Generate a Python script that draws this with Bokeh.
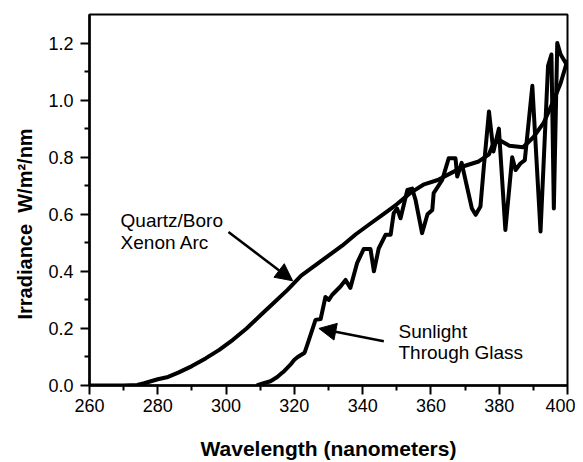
from bokeh.plotting import figure
from bokeh.models import Range1d, Label, Arrow, NormalHead, FixedTicker, PrintfTickFormatter, Title
from bokeh.embed import file_html
from bokeh.resources import INLINE

# ---- data ----
xenon_wl = [260, 270, 274, 276, 278, 280, 283, 286, 290, 294, 298, 302, 306, 310,
            314, 318, 322, 326, 330, 334, 338, 342, 346, 350, 354, 358, 362, 366,
            370, 374, 377, 378, 380, 383, 387, 390, 393, 396, 398, 400]
xenon_irr = [0.0, 0.0, 0.002, 0.008, 0.015, 0.022, 0.03, 0.045, 0.068, 0.095, 0.125,
             0.16, 0.2, 0.245, 0.29, 0.335, 0.385, 0.42, 0.455, 0.49, 0.53, 0.565,
             0.6, 0.635, 0.675, 0.705, 0.72, 0.745, 0.77, 0.785, 0.81, 0.84, 0.86,
             0.84, 0.835, 0.87, 0.92, 1.0, 1.06, 1.14]

sun_wl = [309, 311, 313, 315, 316, 317, 319, 320, 321, 323, 324, 326.2, 327.7, 329.1,
          330.1, 331.1, 333.5, 335, 336.4, 338.4, 340.3, 342.3, 343.3, 344.7, 346.7,
          348.2, 349.1, 350.1, 351.1, 353.1, 354.5, 355.5, 357.4, 359, 360.4, 360.8,
          363.3, 365.2, 367.2, 367.7, 369, 370.5, 372, 373.1, 374.5, 375.5, 377,
          378.3, 379.9, 381.8, 383.8, 384.8, 386.2, 387.5, 389.7, 392.1, 394.3,
          395.3, 396, 397, 398, 399, 400]
sun_irr = [0.0, 0.008, 0.015, 0.03, 0.04, 0.05, 0.075, 0.09, 0.1, 0.115, 0.15, 0.23,
           0.233, 0.31, 0.30, 0.318, 0.347, 0.37, 0.342, 0.43, 0.478, 0.478, 0.40,
           0.48, 0.528, 0.528, 0.604, 0.62, 0.586, 0.685, 0.69, 0.65, 0.534, 0.6,
           0.615, 0.674, 0.72, 0.796, 0.796, 0.732, 0.78, 0.70, 0.62, 0.598, 0.627,
           0.767, 0.96, 0.82, 0.90, 0.545, 0.80, 0.755, 0.778, 0.79, 1.05, 0.54,
           1.12, 1.16, 0.62, 1.20, 1.16, 1.14, 1.12]

x_ticks = [260, 280, 300, 320, 340, 360, 380, 400]
x_minor = [270, 290, 310, 330, 350, 370, 390]
y_ticks = [0.0, 0.2, 0.4, 0.6, 0.8, 1.0, 1.2]
y_minor = [0.1, 0.3, 0.5, 0.7, 0.9, 1.1]

x_title = "Wavelength (nanometers)"
y_title = "Irradiance \u00a0W/m²/nm"
xenon_text = ["Quartz/Boro", "Xenon Arc"]
sun_text = ["Sunlight", "Through Glass"]

# annotation anchors (data units)
xenon_text_pos = (269.1, [0.578, 0.50])
sun_text_pos = (350.5, [0.19, 0.115])
xenon_arrow = (300.7, 0.538, 319.5, 0.367)
sun_arrow = (346.2, 0.155, 327.2, 0.20)

FONT = "Liberation Sans"

p = figure(width=575, height=462, output_backend="svg", toolbar_location=None,
           x_range=Range1d(260, 400), y_range=Range1d(0, 1.3), title=None,
           min_border_left=89, min_border_right=8, min_border_top=14,
           min_border_bottom=76)
p.grid.visible = False
p.outline_line_color = "black"
p.outline_line_width = 2
p.background_fill_color = "white"
p.border_fill_color = "white"

p.xaxis.ticker = FixedTicker(ticks=x_ticks, minor_ticks=x_minor)
p.yaxis.ticker = FixedTicker(ticks=y_ticks, minor_ticks=y_minor)
p.yaxis.formatter = PrintfTickFormatter(format="%.1f")
for ax in (p.xaxis, p.yaxis):
    ax.axis_line_width = 2.5
    ax.axis_line_color = "black"
    ax.major_tick_line_width = 2
    ax.minor_tick_line_width = 2
    ax.major_tick_line_color = "black"
    ax.minor_tick_line_color = "black"
    ax.major_tick_in = 0
    ax.major_tick_out = 9
    ax.minor_tick_in = 0
    ax.minor_tick_out = 5
    ax.major_label_text_font = FONT
    ax.major_label_text_font_size = "18px"
    ax.major_label_text_color = "black"
p.xaxis.major_label_standoff = 4
p.yaxis.major_label_standoff = 7

p.xaxis.axis_label = x_title
p.xaxis.axis_label_text_font = FONT
p.xaxis.axis_label_text_font_size = "21px"
p.xaxis.axis_label_text_font_style = "bold"
p.xaxis.axis_label_text_color = "black"
p.xaxis.axis_label_standoff = 22

p.add_layout(Title(text=y_title, align="left", offset=66, standoff=19,
                   text_font=FONT, text_font_size="20px", text_font_style="bold",
                   text_color="black"), "left")

p.line(xenon_wl, xenon_irr, line_width=4, line_color="black", line_join="round")
p.line(sun_wl, sun_irr, line_width=4, line_color="black", line_join="round")

for txt, yy in zip(xenon_text, xenon_text_pos[1]):
    p.add_layout(Label(x=xenon_text_pos[0], y=yy, text=txt, text_font=FONT,
                       text_font_size="19px", text_color="black",
                       text_baseline="alphabetic", text_align="left"))
for txt, yy in zip(sun_text, sun_text_pos[1]):
    p.add_layout(Label(x=sun_text_pos[0], y=yy, text=txt, text_font=FONT,
                       text_font_size="19px", text_color="black",
                       text_baseline="alphabetic", text_align="left"))

for (xs, ys, xe, ye) in (xenon_arrow, sun_arrow):
    p.add_layout(Arrow(x_start=xs, y_start=ys, x_end=xe, y_end=ye,
                       line_width=2.5, line_color="black",
                       end=NormalHead(size=17, fill_color="black",
                                      line_color="black", line_width=1)))

open("out.html", "w").write(file_html(p, INLINE))
